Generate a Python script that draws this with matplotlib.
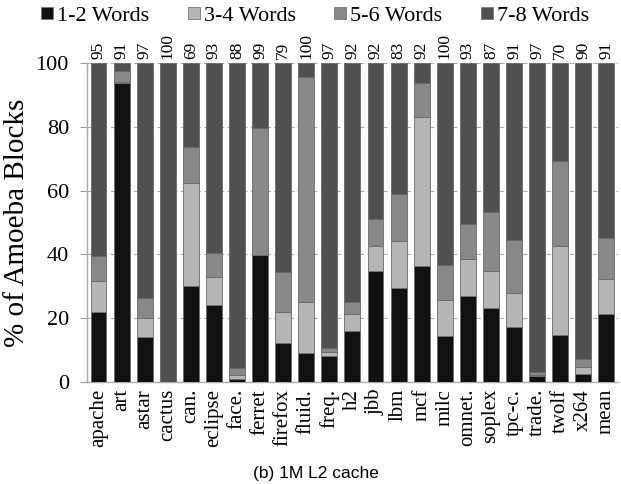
import matplotlib
matplotlib.use("Agg")
import matplotlib.pyplot as plt
from matplotlib.lines import Line2D
import numpy as np

categories = ["apache", "art", "astar", "cactus", "can.", "eclipse", "face.", "ferret",
              "firefox", "fluid.", "freq.", "h2", "jbb", "lbm", "mcf", "milc", "omnet.",
              "soplex", "tpc-c.", "trade.", "twolf", "x264", "mean"]
w12 = [21.8, 93.6, 14.0, 0.0, 30.1, 24.1, 1.0, 39.7, 12.3, 9.0, 8.2, 16.0, 34.8, 29.4,
       36.4, 14.3, 27.0, 23.2, 17.1, 1.8, 14.7, 2.4, 21.4]
w34 = [9.8, 0.6, 6.0, 0.0, 32.4, 8.8, 1.2, 0.1, 9.7, 16.0, 1.3, 5.3, 8.0, 14.9,
       46.6, 11.5, 11.5, 11.7, 10.9, 0.3, 28.0, 2.4, 10.8]
w56 = [7.9, 3.3, 6.2, 0.0, 11.3, 7.4, 2.2, 39.8, 12.6, 70.5, 1.1, 3.8, 8.3, 14.8,
       10.6, 11.0, 11.0, 18.4, 16.5, 1.0, 26.7, 2.3, 13.0]
top_labels = [95, 91, 97, 100, 69, 93, 88, 99, 79, 100, 97, 92, 92, 83, 92, 100, 93,
              87, 91, 97, 70, 90, 91]
series_names = ["1-2 Words", "3-4 Words", "5-6 Words", "7-8 Words"]
colors = ["#111111", "#b5b5b5", "#888888", "#505050"]

w12 = np.array(w12); w34 = np.array(w34); w56 = np.array(w56)
w78 = 100 - w12 - w34 - w56

serif = ["Liberation Serif", "DejaVu Serif"]
plt.rcParams["font.family"] = serif

fig = plt.figure(figsize=(6.21, 4.84), dpi=100)
ax = fig.add_axes([0.140, 0.2107, 0.855, 0.659])
x = np.arange(len(categories))
bottom = np.zeros(len(categories))
for vals, c in zip([w12, w34, w56, w78], colors):
    ax.bar(x, vals, bottom=bottom, width=0.69, color=c, edgecolor="#6a6a6a",
           linewidth=0.6, zorder=3)
    bottom = bottom + vals

ax.set_xlim(-0.5, len(categories) - 0.5)
ax.set_ylim(0, 100)
ax.set_yticks([0, 20, 40, 60, 80, 100])
ax.set_yticklabels(["0", "20", "40", "60", "80", "100"], fontsize=16)
ax.set_xticks(x)
ax.set_xticklabels(categories, rotation=90, fontsize=15)
ax.tick_params(axis="x", length=0, pad=5)
ax.tick_params(axis="y", length=5, color="#999999", width=0.8, pad=8)
ax.yaxis.grid(True, linestyle=(0, (4, 3)), color="#aaaaaa", linewidth=0.8, zorder=0)
ax.set_axisbelow(True)
for s in ["top", "right"]:
    ax.spines[s].set_visible(False)
for s in ["left", "bottom"]:
    ax.spines[s].set_color("#aaaaaa")
    ax.spines[s].set_linewidth(1.0)
ax.set_ylabel("% of Amoeba Blocks", fontsize=21, labelpad=4)

for xi, t in zip(x, top_labels):
    ax.text(xi, 1.012, str(t), rotation=90, ha="center", va="bottom", fontsize=12.5,
            transform=ax.get_xaxis_transform())

handles = [Line2D([], [], marker="s", linestyle="none", markersize=8,
                  markerfacecolor=c, markeredgecolor="#777777", markeredgewidth=0.6)
           for c in colors]
fig.legend(handles, series_names, loc="center", bbox_to_anchor=(0.506, 0.968), ncol=4,
           frameon=False, prop={"family": serif, "size": 16}, handletextpad=0.1,
           columnspacing=1.65, handlelength=0.7, borderaxespad=0)

fig.text(0.509, 0.022, "(b) 1M L2 cache", ha="center", va="center",
         fontfamily=["Liberation Sans", "DejaVu Sans"], fontsize=12.5)

fig.savefig("out.png", dpi=100)
